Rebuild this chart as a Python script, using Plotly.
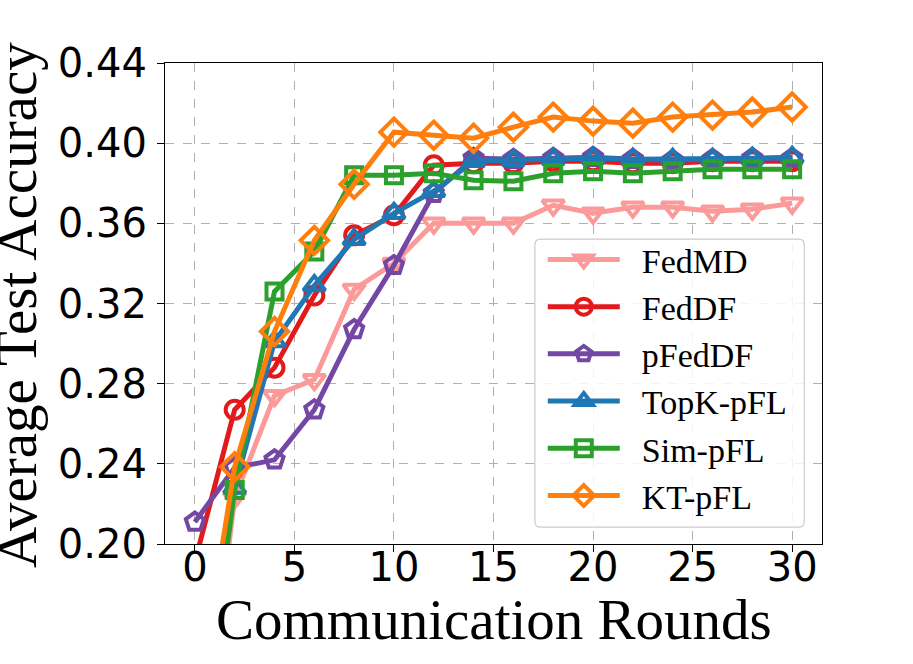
import plotly.graph_objects as go

# communication rounds (x) and accuracy per method
rounds = [0, 2, 4, 6, 8, 10, 12, 14, 16, 18, 20, 22, 24, 26, 28, 30]

fedmd = [0.060, 0.223, 0.274, 0.282, 0.327, 0.340, 0.360, 0.360, 0.360, 0.369, 0.365, 0.368, 0.368, 0.366, 0.367, 0.370]
feddf = [0.191, 0.267, 0.288, 0.324, 0.354, 0.364, 0.389, 0.390, 0.390, 0.391, 0.391, 0.390, 0.390, 0.391, 0.391, 0.391]
pfeddf = [0.211, 0.238, 0.242, 0.267, 0.307, 0.339, 0.375, 0.3925, 0.392, 0.3925, 0.393, 0.392, 0.3915, 0.392, 0.3925, 0.3925]
topk = [0.100, 0.228, 0.301, 0.329, 0.352, 0.365, 0.376, 0.391, 0.3915, 0.392, 0.3925, 0.392, 0.392, 0.392, 0.3925, 0.393]
simpfl = [0.078, 0.227, 0.326, 0.346, 0.384, 0.384, 0.385, 0.3815, 0.381, 0.385, 0.386, 0.385, 0.386, 0.387, 0.387, 0.387]
ktpfl = [0.113, 0.2385, 0.306, 0.3515, 0.3795, 0.4055, 0.404, 0.4025, 0.408, 0.413, 0.411, 0.410, 0.413, 0.414, 0.4155, 0.418]

y_ticks = [0.20, 0.24, 0.28, 0.32, 0.36, 0.40, 0.44]
x_ticks = [0, 5, 10, 15, 20, 25, 30]

series = [
    ("FedMD", fedmd, "#fb9a99", "triangle-down-open", 19),
    ("FedDF", feddf, "#e31a1c", "circle-open", 18),
    ("pFedDF", pfeddf, "#7447a5", "pentagon-open", 19),
    ("TopK-pFL", topk, "#1f77b4", "triangle-up-open", 19),
    ("Sim-pFL", simpfl, "#2ca02c", "square-open", 16),
    ("KT-pFL", ktpfl, "#ff7f0e", "diamond-open", 21),
]

fig = go.Figure()
for name, vals, col, sym, sz in series:
    fig.add_trace(go.Scatter(
        x=rounds, y=vals, name="\u00a0\u00a0" + name, mode="lines+markers",
        legendgroup=name,
        line=dict(color=col, width=5),
        marker=dict(symbol=sym, size=sz, color=col, line=dict(color=col, width=4)),
    ))

# rounded legend frame (paper coords relative to plot area)
x0, x1, y0, y1 = 0.563, 0.973, 0.035, 0.634
rx, ry = 0.009, 0.012
path = (f"M{x0+rx},{y1} L{x1-rx},{y1} Q{x1},{y1} {x1},{y1-ry} "
        f"L{x1},{y0+ry} Q{x1},{y0} {x1-rx},{y0} L{x0+rx},{y0} "
        f"Q{x0},{y0} {x0},{y0+ry} L{x0},{y1-ry} Q{x0},{y1} {x0+rx},{y1} Z")
fig.add_shape(type="path", path=path, xref="paper", yref="paper",
              line=dict(color="#cccccc", width=1.2), fillcolor="rgba(255,255,255,0.85)",
              layer="above")

axis_common = dict(
    showline=True, linecolor="black", linewidth=1.2, mirror=True,
    ticks="outside", ticklen=7, tickcolor="black", tickwidth=1.2,
    showgrid=True, gridcolor="#b0b0b0", griddash="dash", gridwidth=1,
    zeroline=False, automargin=False,
    tickfont=dict(family="DejaVu Sans", size=40, color="black"),
)

fig.update_xaxes(range=[-1.5, 31.5], tickvals=x_ticks, ticklabelstandoff=-19, **axis_common)
fig.update_yaxes(range=[0.20, 0.44], tickvals=y_ticks, tickformat=".2f", ticklabelstandoff=2,
                 **axis_common)

title_font = dict(family="Liberation Serif", size=57, color="black")
fig.add_annotation(text="Communication Rounds", xref="paper", yref="paper",
                   x=0.5, y=-0.156, xanchor="center", yanchor="middle",
                   showarrow=False, font=title_font)
fig.add_annotation(text="Average Test Accuracy", xref="paper", yref="paper",
                   x=-0.2253, y=0.497, xanchor="center", yanchor="middle",
                   textangle=-90, showarrow=False, font=title_font)

fig.update_layout(
    width=913, height=664,
    margin=dict(l=165, r=91, t=63, b=120),
    paper_bgcolor="white", plot_bgcolor="white",
    showlegend=True,
    legend=dict(x=0.575, y=0.651, xanchor="left", yanchor="top",
                bgcolor="rgba(0,0,0,0)", borderwidth=0,
                font=dict(family="Liberation Serif", size=34, color="black"),
                tracegroupgap=0, itemwidth=72),
)

# drop the page's default body margin so the figure fills the window
fig.write_html("out.html", config={"displayModeBar": False},
               post_script="document.body.style.margin='0';")
